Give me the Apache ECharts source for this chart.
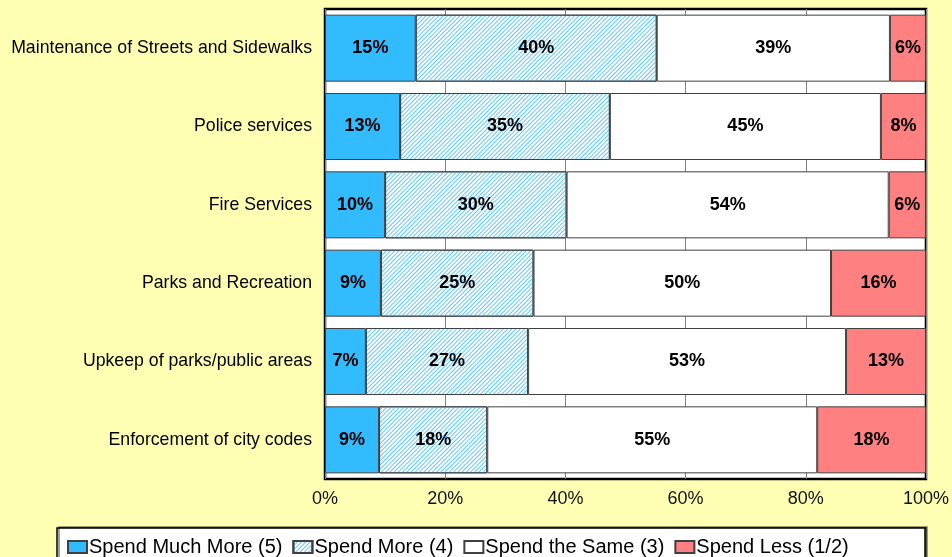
<!DOCTYPE html>
<html><head><meta charset="utf-8">
<script src="https://cdn.jsdelivr.net/npm/echarts@6/dist/echarts.min.js"></script>
<style>html,body{margin:0;padding:0;background:#FFFFB4;}#c{width:952px;height:557px;}</style>
</head><body><div id="c"></div>
<script>
const categories = ["Maintenance of Streets and Sidewalks","Police services","Fire Services","Parks and Recreation","Upkeep of parks/public areas","Enforcement of city codes"];
const seriesNames = ["Spend Much More (5)","Spend More (4)","Spend the Same (3)","Spend Less (1/2)"];
const spendMuchMore = [15.1, 12.5, 10.0, 9.3, 6.8, 9.0];
const spendMore     = [40.1, 34.9, 30.2, 25.4, 27.0, 18.0];
const spendSame     = [38.8, 45.1, 53.6, 49.5, 52.9, 54.9];
const spendLess     = [6.0, 7.5, 6.2, 15.8, 13.3, 18.1];
const xTicks = [0, 20, 40, 60, 80, 100];

const hatchDecal = {symbol: 'rect', symbolSize: 1, color: '#5EC8FF', dashArrayX: [1, 0], dashArrayY: [1, 2], rotation: -Math.PI / 4};
const styles = [
  {color: '#33BBFF'},
  {color: '#FFFFFF', decal: hatchDecal},
  {color: '#FFFFFF'},
  {color: '#FF8080'}
];
const data = [spendMuchMore, spendMore, spendSame, spendLess];

const chart = echarts.init(document.getElementById('c'));
chart.setOption({
  backgroundColor: '#FFFFB4',
  animation: false,
  textStyle: {fontFamily: 'Liberation Sans, Arial, sans-serif'},
  grid: {left: 325, right: 26, top: 9, bottom: 78, show: true, backgroundColor: '#ffffff', borderColor: '#000', borderWidth: 2.5},
  xAxis: {
    type: 'value', min: 0, max: 100, interval: 20,
    axisLine: {show: false}, axisTick: {show: false},
    splitLine: {show: true, lineStyle: {color: '#808080', width: 1}},
    axisLabel: {formatter: v => xTicks.includes(v) ? v + '%' : '', color: '#111', fontSize: 18, margin: 11}
  },
  yAxis: {
    type: 'category', data: categories, inverse: true,
    axisLine: {show: false}, axisTick: {show: false},
    axisLabel: {color: '#000', fontSize: 17.7, margin: 13}
  },
  graphic: [{type: 'rect', shape: {x: 57, y: 528, width: 868, height: 40}, style: {fill: '#fff', stroke: '#000', lineWidth: 1.5, shadowColor: 'rgba(0,0,0,0.5)', shadowOffsetX: 2, shadowOffsetY: -1}, z: 0}],
  legend: {
    left: 62, top: 532, itemWidth: 19, itemHeight: 12, itemGap: 10,
    textStyle: {fontSize: 20, color: '#000', padding: [0,0,0,-3]},
    data: seriesNames.map(n => ({name: n, icon: 'rect'})),
    z: 5
  },
  series: seriesNames.map((n, i) => ({
    name: n, type: 'bar', stack: 'all', barWidth: 67,
    data: data[i],
    itemStyle: Object.assign({borderColor: '#404040', borderWidth: 1}, styles[i]),
    label: {show: true, position: 'inside', formatter: p => Math.round(p.value) + '%', fontWeight: 'bold', fontSize: 18, color: '#000'}
  }))
});
</script></body></html>
